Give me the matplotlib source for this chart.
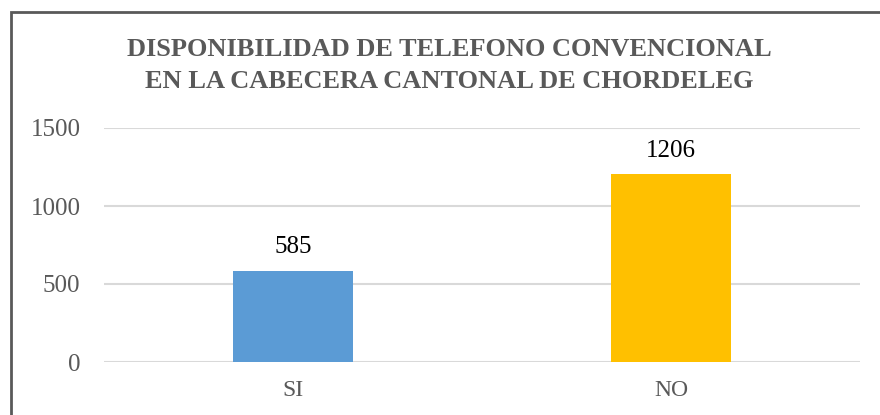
import matplotlib
matplotlib.use("Agg")
import matplotlib.pyplot as plt
from matplotlib.patches import Rectangle

categories = ["SI", "NO"]
values = [585, 1206]
colors = ["#5B9BD5", "#FFC000"]
yticks = [0, 500, 1000, 1500]
title = "DISPONIBILIDAD DE TELEFONO CONVENCIONAL\nEN LA CABECERA CANTONAL DE CHORDELEG"

W, H = 880, 415
fig = plt.figure(figsize=(W / 100, H / 100), dpi=100)
plt.rcParams['font.family'] = ['Liberation Serif', 'DejaVu Serif']

# outer frame (left/top visible, continues past right/bottom edges)
fig.patches.append(Rectangle((11 / W, -0.1), 1.2, (H - 12) / H + 0.1, transform=fig.transFigure,
                             fill=False, edgecolor="#595959", linewidth=2.0))

ax = fig.add_axes([104 / W, (H - 362) / H, (860 - 104) / W, (362 - 128) / H])
x = list(range(len(categories)))
bars = ax.bar(x, values, width=0.317, color=colors, zorder=3)
ax.set_xlim(-0.5, len(categories) - 0.5)
ax.set_ylim(0, 1500)
ax.set_yticks(yticks)
ax.set_xticks(x)
ax.set_xticklabels(categories)
ax.grid(axis="y", color="#D9D9D9", linewidth=1.5, zorder=0)
ax.set_axisbelow(True)
for s in ax.spines.values():
    s.set_visible(False)
ax.tick_params(axis="both", length=0, colors="#595959")
ax.tick_params(axis="y", pad=17, labelsize=18)
ax.tick_params(axis="x", pad=13, labelsize=17)

for b, v in zip(bars, values):
    ax.annotate(str(v), (b.get_x() + b.get_width() / 2, v), xytext=(0, 12.5),
                textcoords="offset points", ha="center", va="baseline",
                fontsize=18, color="black")

fig.text(449 / W, (H - 65) / H, title, ha="center", va="center", fontsize=19,
         fontweight="bold", color="#595959", linespacing=1.5)

fig.savefig("out.png", dpi=100)
